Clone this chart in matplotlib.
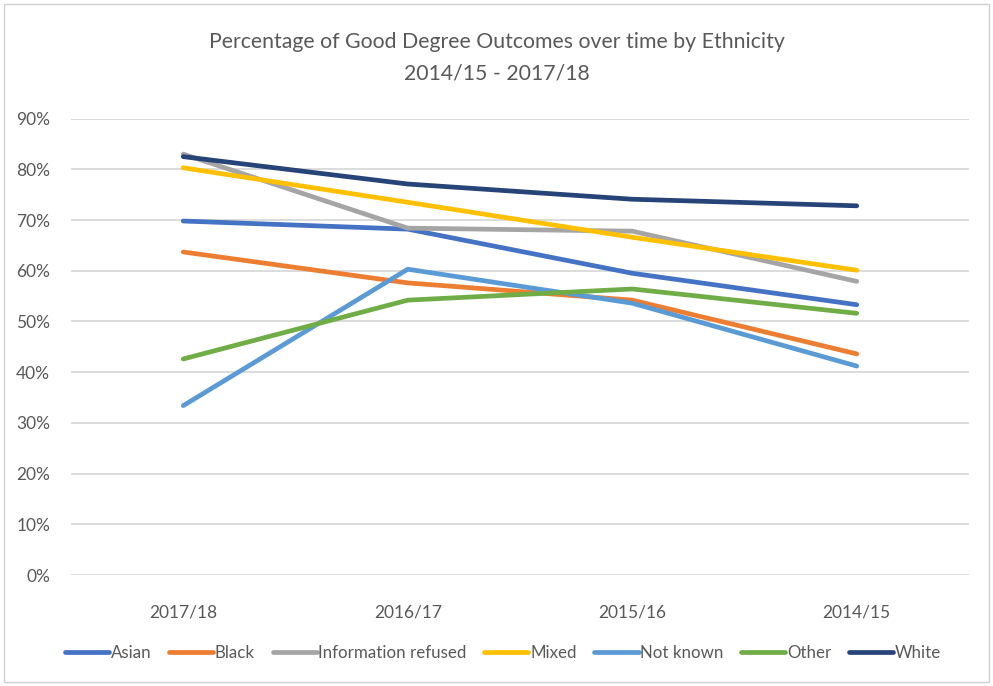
import matplotlib

matplotlib.use("Agg")

import matplotlib.pyplot as plt
from matplotlib.patches import Rectangle
from matplotlib.ticker import FuncFormatter

plt.rcParams["font.family"] = ["Lato", "DejaVu Sans"]

years = ["2017/18", "2016/17", "2015/16", "2014/15"]

asian = [69.8, 68.2, 59.5, 53.3]
black = [63.7, 57.6, 54.2, 43.6]
info_refused = [83.0, 68.4, 67.8, 57.9]
mixed = [80.3, 73.5, 66.6, 60.1]
not_known = [33.4, 60.3, 53.6, 41.2]
other = [42.6, 54.2, 56.4, 51.6]
white = [82.5, 77.1, 74.1, 72.8]

series = [
    ("Asian", asian, "#4472C4"),
    ("Black", black, "#ED7D31"),
    ("Information refused", info_refused, "#A5A5A5"),
    ("Mixed", mixed, "#FFC000"),
    ("Not known", not_known, "#5B9BD5"),
    ("Other", other, "#70AD47"),
    ("White", white, "#264478"),
]

text_col = "#595959"
grid_col = "#D9D9D9"

fig = plt.figure(figsize=(9.93, 6.86), dpi=100)
ax = fig.add_axes([71 / 993, 1 - 575 / 686, 898 / 993, (575 - 118.6) / 686])

x = list(range(len(years)))
for name, vals, col in series:
    ax.plot(x, vals, color=col, lw=3.4, solid_capstyle="round",
            solid_joinstyle="round", label=name, zorder=3)

ax.set_xlim(-0.5, len(years) - 0.5)
ax.set_ylim(0, 90)
ax.set_yticks(range(0, 91, 10))
ax.yaxis.set_major_formatter(FuncFormatter(lambda v, _: f"{v:.0f}%"))
ax.set_xticks(x)
ax.set_xticklabels(years)
ax.grid(axis="y", color=grid_col, lw=1.3, zorder=0)
ax.tick_params(length=0, labelsize=12.5, colors=text_col)
ax.tick_params(axis="y", pad=15)
ax.tick_params(axis="x", pad=21)
for s in ax.spines.values():
    s.set_visible(False)

fig.text(0.5, 1 - 42 / 686, "Percentage of Good Degree Outcomes over time by Ethnicity",
         ha="center", va="center", fontsize=15.3, color=text_col)
fig.text(0.5, 1 - 73 / 686, "2014/15 - 2017/18",
         ha="center", va="center", fontsize=15.3, color=text_col)

leg = fig.legend(loc="center", bbox_to_anchor=(503 / 993, 1 - 653 / 686), ncol=7,
                 frameon=False, fontsize=12.2, handlelength=2.6, handletextpad=0.1,
                 columnspacing=1.05)
for t in leg.get_texts():
    t.set_color(text_col)

# thin frame round the whole chart area
fig.add_artist(Rectangle((4 / 993, 4 / 686), 985 / 993, 678 / 686,
                         transform=fig.transFigure, fill=False,
                         edgecolor="#D0D0D0", lw=1.0))

fig.savefig("out.png", dpi=100)
